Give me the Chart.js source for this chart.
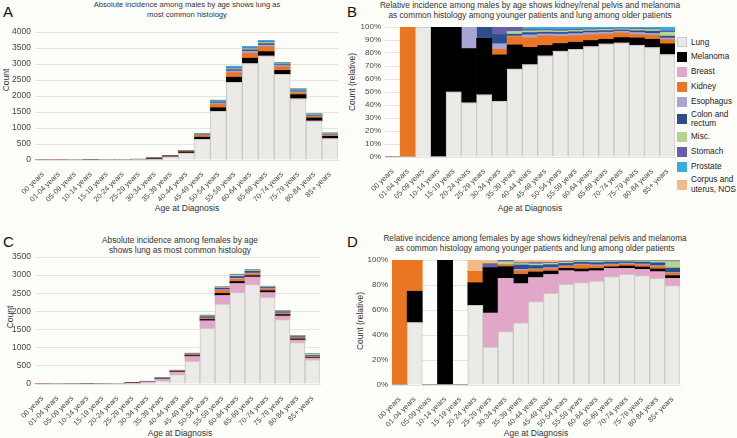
<!DOCTYPE html>
<html>
<head>
<meta charset="utf-8">
<script src="https://cdn.jsdelivr.net/npm/chart.js@4.4.0/dist/chart.umd.min.js"></script>
<style>
  body { margin: 0; background: #fdfdfa; font-family: "Liberation Sans", Arial, sans-serif; color: #333; }
  #page { position: relative; width: 737px; height: 438px; overflow: hidden; }
  canvas { position: absolute; }
  .t { position: absolute; white-space: nowrap; line-height: 10px; text-align: center; transform: translateX(-50%); }
  .letter { position: absolute; font-size: 15px; line-height: 15px; color: #111; }
  .ax { position: absolute; white-space: nowrap; font-size: 8.5px; transform: translate(-50%, -50%); }
  .ay { position: absolute; white-space: nowrap; font-size: 8.5px; transform: translate(-50%, -50%) rotate(-90deg); }
  #legend { position: absolute; left: 677px; top: 35px; font-size: 8.2px; color: #222; }
  .li { display: flex; align-items: center; height: 14.8px; white-space: nowrap; }
  .li.two { height: 20.8px; }
  .sw { width: 10px; height: 10px; margin-right: 4px; box-sizing: border-box; flex: none; }
  .li span { line-height: 9.5px; }
</style>
</head>
<body>
<div id="page">
  <div class="letter" style="left:3px;top:4px">A</div>
  <div class="letter" style="left:347px;top:4px">B</div>
  <div class="letter" style="left:3px;top:234px">C</div>
  <div class="letter" style="left:347px;top:234px">D</div>

  <div class="t" style="left:187px;top:0px;font-size:7.6px">Absolute incidence among males by age shows lung as<br>most common histology</div>
  <div class="t" style="left:530px;top:0px;font-size:8.3px">Relative incidence among males by age shows kidney/renal pelvis and melanoma<br>as common histology among younger patients and lung among older patients</div>
  <div class="t" style="left:180px;top:235px;font-size:8.3px">Absolute incidence among females by age<br>shows lung as most common histology</div>
  <div class="t" style="left:535px;top:234px;font-size:8.2px">Relative incidence among females by age shows kidney/renal pelvis and melanoma<br>as common histology among younger patients and lung among older patients</div>

  <div class="ay" style="left:6px;top:80px">Count</div>
  <div class="ay" style="left:352px;top:82px">Count (relative)</div>
  <div class="ay" style="left:10px;top:317px">Count</div>
  <div class="ay" style="left:360px;top:321px">Count (relative)</div>

  <div class="ax" style="left:187px;top:208px">Age at Diagnosis</div>
  <div class="ax" style="left:530px;top:208px">Age at Diagnosis</div>
  <div class="ax" style="left:180px;top:433px">Age at Diagnosis</div>
  <div class="ax" style="left:536px;top:433px">Age at Diagnosis</div>

  <canvas id="chartA" width="345" height="218" style="left:0;top:0"></canvas>
  <canvas id="chartB" width="327" height="218" style="left:350px;top:0"></canvas>
  <canvas id="chartC" width="325" height="220" style="left:0;top:218px"></canvas>
  <canvas id="chartD" width="335" height="220" style="left:355px;top:218px"></canvas>

  <div id="legend"></div>
</div>

<script>
// categories
const ageGroups = ["00 years", "01-04 years", "05-09 years", "10-14 years", "15-19 years",
  "20-24 years", "25-29 years", "30-34 years", "35-39 years", "40-44 years", "45-49 years",
  "50-54 years", "55-59 years", "60-64 years", "65-69 years", "70-74 years", "75-79 years",
  "80-84 years", "85+ years"];

const histologies = ["Lung", "Melanoma", "Breast", "Kidney", "Esophagus", "Colon and rectum",
  "Misc.", "Stomach", "Prostate", "Corpus and uterus, NOS"];
const legendLines = [["Lung"], ["Melanoma"], ["Breast"], ["Kidney"], ["Esophagus"],
  ["Colon and", "rectum"], ["Misc."], ["Stomach"], ["Prostate"], ["Corpus and", "uterus, NOS"]];
// bottom-to-top stacking (breast sits right on top of lung)
const stackOrder = [0, 2, 1, 3, 4, 5, 6, 7, 8, 9];

// male counts (panels A, B)
const maleLung      = [0, 0, 1, 0, 3, 5, 11, 30, 98, 213, 645, 1520, 2425, 3015, 3250, 2675, 1915, 1220, 669];
const maleMelanoma  = [0, 0, 0, 2, 3, 5, 10, 25, 27, 40, 66, 110, 160, 165, 135, 125, 125, 92, 70];
const maleBreast    = [0, 0, 0, 0, 0, 0, 0, 0, 0, 0, 1, 2, 2, 2, 2, 2, 2, 1, 1];
const maleKidney    = [0, 2, 0, 0, 0, 0, 0, 3, 9, 22, 61, 105, 145, 155, 150, 110, 58, 45, 28];
const maleEsophagus = [0, 0, 0, 0, 0, 2, 0, 3, 1, 7, 13, 30, 50, 60, 55, 40, 35, 20, 10];
const maleColon     = [0, 0, 0, 0, 0, 0, 2, 5, 2, 5, 11, 25, 40, 45, 45, 30, 30, 25, 12];
const maleMisc      = [0, 0, 0, 0, 0, 0, 0, 0, 3, 4, 10, 20, 30, 35, 35, 25, 25, 18, 25];
const maleStomach   = [0, 0, 0, 0, 0, 0, 0, 4, 5, 4, 8, 20, 25, 25, 25, 15, 15, 10, 10];
const maleProstate  = [0, 0, 0, 0, 0, 0, 0, 0, 0, 5, 15, 38, 53, 48, 43, 28, 25, 19, 25];
const maleCorpus    = [0, 0, 0, 0, 0, 0, 0, 0, 0, 0, 0, 0, 0, 0, 0, 0, 0, 0, 0];

// female counts (panels C, D)
const femaleLung      = [0, 2, 0, 0, 0, 7, 10, 32, 87, 257, 628, 1533, 2203, 2520, 2740, 2390, 1772, 1139, 666];
const femaleMelanoma  = [0, 1, 0, 1, 0, 2, 12, 7, 13, 17, 23, 35, 56, 55, 35, 50, 38, 28, 18];
const femaleBreast    = [0, 0, 0, 0, 0, 0, 9, 32, 55, 74, 130, 210, 237, 250, 209, 130, 101, 72, 49];
const femaleKidney    = [2, 1, 0, 0, 0, 1, 0, 1, 5, 7, 16, 25, 86, 60, 50, 40, 35, 26, 16];
const femaleEsophagus = [0, 0, 0, 0, 0, 0, 0, 0, 2, 3, 8, 15, 20, 30, 25, 20, 15, 10, 5];
const femaleColon     = [0, 0, 0, 0, 0, 0, 0, 0, 6, 10, 20, 35, 40, 50, 50, 30, 30, 30, 30];
const femaleMisc      = [0, 0, 0, 0, 0, 0, 0, 2, 2, 5, 10, 20, 20, 30, 25, 20, 20, 20, 44];
const femaleStomach   = [0, 0, 0, 0, 0, 0, 1, 1, 1, 4, 6, 10, 10, 15, 10, 8, 6, 5, 4];
const femaleProstate  = [0, 0, 0, 0, 0, 0, 0, 0, 0, 0, 0, 0, 0, 0, 0, 0, 0, 0, 0];
const femaleCorpus    = [0, 0, 0, 0, 0, 1, 1, 0, 4, 8, 16, 22, 18, 20, 16, 12, 8, 5, 6];

const absTicksMale = [0, 500, 1000, 1500, 2000, 2500, 3000, 3500, 4000];
const absTicksFemale = [0, 500, 1000, 1500, 2000, 2500, 3000, 3500];
const pctTicks = [0, 10, 20, 30, 40, 50, 60, 70, 80, 90, 100];

// styles
const fillColors = ["#ebeae6", "#000000", "#e2a6c9", "#ea7623", "#a9a5d3", "#2d4e8e",
  "#b3d58f", "#6660aa", "#36ace0", "#f5b985"];
const FONT = "'Liberation Sans', Arial, sans-serif";
const GRID = "#e4e4e1";

const maleSeries = [maleLung, maleMelanoma, maleBreast, maleKidney, maleEsophagus,
  maleColon, maleMisc, maleStomach, maleProstate, maleCorpus];
const femaleSeries = [femaleLung, femaleMelanoma, femaleBreast, femaleKidney, femaleEsophagus,
  femaleColon, femaleMisc, femaleStomach, femaleProstate, femaleCorpus];

function toPercent(series) {
  const totals = ageGroups.map((_, j) => series.reduce((s, arr) => s + arr[j], 0));
  return series.map(arr => arr.map((v, j) => totals[j] ? v / totals[j] * 100 : 0));
}

function makePanel(id, series, ticks, relative, box) {
  const ctx = document.getElementById(id).getContext("2d");
  const datasets = stackOrder.map(i => ({
    label: histologies[i],
    data: series[i],
    backgroundColor: fillColors[i],
    borderColor: i === 0 ? "#c8c8c4" : fillColors[i],
    borderWidth: c => (i === 0 && c.raw > 0) ? 1 : 0,
    barPercentage: 1,
    categoryPercentage: 1
  }));

  return new Chart(ctx, {
    type: "bar",
    data: { labels: ageGroups, datasets },
    options: {
      responsive: false,
      animation: false,
      layout: { padding: { top: box.top, right: box.right, left: 0, bottom: 0 } },
      plugins: { legend: { display: false }, tooltip: { enabled: false }, title: { display: false } },
      scales: {
        x: {
          stacked: true,
          grid: { display: false },
          border: { color: GRID },
          ticks: {
            autoSkip: false, minRotation: 45, maxRotation: 45, padding: 2,
            color: "#444", font: { family: FONT, size: 7.4 }
          },
          afterFit: s => { s.height = box.xh; }
        },
        y: {
          stacked: true,
          min: 0,
          max: ticks[ticks.length - 1],
          afterBuildTicks: s => { s.ticks = ticks.map(v => ({ value: v })); },
          grid: { color: GRID, drawTicks: false },
          border: { display: false },
          ticks: {
            padding: 4, color: "#444", font: { family: FONT, size: relative ? 8 : 8.5 },
            callback: v => relative ? v + "%" : v
          },
          afterFit: s => { s.width = box.yw; }
        }
      }
    }
  });
}

makePanel("chartA", maleSeries, absTicksMale, false, { top: 32, right: 7, yw: 35, xh: 58 });
makePanel("chartB", toPercent(maleSeries), pctTicks, true, { top: 27, right: 2, yw: 35, xh: 61 });
makePanel("chartC", femaleSeries, absTicksFemale, false, { top: 39, right: 5, yw: 35, xh: 54 });
makePanel("chartD", toPercent(femaleSeries), pctTicks, true, { top: 42, right: 10, yw: 37, xh: 53 });

// legend (panel B)
const legend = document.getElementById("legend");
histologies.forEach((name, i) => {
  const row = document.createElement("div");
  row.className = "li" + (legendLines[i].length > 1 ? " two" : "");
  const sw = document.createElement("div");
  sw.className = "sw";
  sw.style.background = fillColors[i];
  if (i === 0) sw.style.border = "1px solid #c8c8c4";
  const label = document.createElement("span");
  label.innerHTML = legendLines[i].join("<br>");
  row.appendChild(sw);
  row.appendChild(label);
  legend.appendChild(row);
});
</script>
</body>
</html>
